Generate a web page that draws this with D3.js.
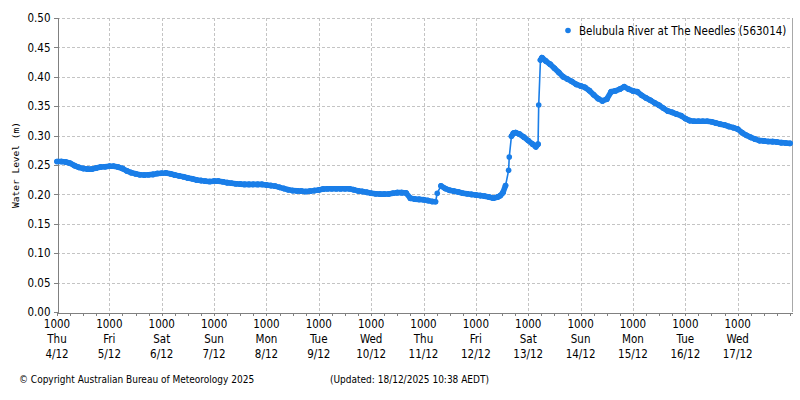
<!DOCTYPE html>
<html>
<head>
<meta charset="utf-8">
<script src="https://cdn.jsdelivr.net/npm/d3@7"></script>
<style>
  html, body { margin: 0; padding: 0; background: #fff; }
  svg { display: block; }
  .lbl { font-family: "DejaVu Sans Condensed", "DejaVu Sans", sans-serif; font-stretch: condensed; font-size: 11.5px; fill: #000; }
  .foot { font-family: "DejaVu Sans Condensed", "DejaVu Sans", sans-serif; font-stretch: condensed; font-size: 10px; fill: #000; }
  .ytitle { font-family: "DejaVu Sans Mono", monospace; font-size: 9.5px; fill: #000; }
</style>
</head>
<body>
<svg id="chart" width="800" height="400"></svg>
<script>
// ---- data ----
const seriesName = "Belubula River at The Needles (563014)";
const yTitle = "Water Level (m)";
const tickTime = "1000";
const dayNames = ["Thu","Fri","Sat","Sun","Mon","Tue","Wed","Thu","Fri","Sat","Sun","Mon","Tue","Wed"];
const dayDates = ["4/12","5/12","6/12","7/12","8/12","9/12","10/12","11/12","12/12","13/12","14/12","15/12","16/12","17/12"];
const yTicks = [0.00,0.05,0.10,0.15,0.20,0.25,0.30,0.35,0.40,0.45,0.50];
const footLeft = "\u00A9 Copyright Australian Bureau of Meteorology 2025";
const footRight = "(Updated: 18/12/2025 10:38 AEDT)";
const hoursShown = 336.9; // 4/12 10:00 -> 18/12 ~10:53
// readings: [hours since 4/12 10:00, water level m]
const readings = [
 [0,0.256],[2,0.256],[4,0.255],[6,0.253],[8,0.249],[10,0.246],[12,0.244],[14,0.243],[16,0.243],[18,0.245],[20,0.2465],[22,0.247],
 [24,0.248],[26,0.248],[28,0.2465],[30,0.244],[32,0.240],[34,0.237],[36,0.235],[38,0.2335],[40,0.233],[42,0.2335],[44,0.234],[46,0.2355],
 [48,0.236],[50,0.2365],[52,0.235],[54,0.233],[56,0.2315],[58,0.230],[60,0.228],[62,0.2265],[64,0.2245],[66,0.2235],[68,0.2225],[70,0.222],
 [72,0.2225],[74,0.2225],[76,0.2215],[78,0.220],[80,0.219],[82,0.218],[84,0.2175],[86,0.217],[88,0.217],[90,0.217],[92,0.217],[94,0.217],
 [96,0.216],[98,0.215],[100,0.214],[102,0.212],[104,0.210],[106,0.208],[108,0.2065],[110,0.206],[112,0.2055],[114,0.205],[116,0.2055],[118,0.2065],
 [120,0.2075],[122,0.209],[124,0.2095],[126,0.2097],[128,0.2097],[130,0.2097],[132,0.2097],[134,0.2095],[136,0.208],[138,0.206],[140,0.205],[142,0.2035],
 [144,0.202],[146,0.201],[148,0.2005],[150,0.2005],[152,0.2007],[154,0.202],[156,0.203],[158,0.203],[160,0.2025],[162,0.1935],[164,0.192],[166,0.1915],
 [168,0.191],[170,0.1895],[172,0.188],[173.5,0.1875],[174.3,0.202],[176,0.2145],[178,0.210],[180,0.207],[182,0.2055],[184,0.204],[186,0.202],[188,0.201],[190,0.200],
 [192,0.199],[194,0.198],[196,0.197],[198,0.1955],[200,0.1935],[202,0.1955],[203.2,0.198],[204.4,0.203],[205.6,0.215],[207,0.241],[207.3,0.2636],
 [208.3,0.299],[209.2,0.304],[210.2,0.305],[212,0.3025],[214,0.2975],
 [216,0.2915],[218,0.2855],[219.5,0.281],[220.5,0.2855],[220.8,0.352],[221.6,0.4286],[222.3,0.4325],[224,0.427],[226,0.4215],[228,0.4145],[230,0.4075],
 [232,0.400],[234,0.396],[236,0.392],[238,0.3872],
 [240,0.3845],[242,0.382],[244,0.3765],[246,0.3695],[248,0.363],[250,0.359],[252,0.362],[254,0.3745],[256,0.3762],[258,0.379],[260,0.383],[262,0.379],
 [264,0.376],[266,0.3745],[268,0.3685],[270,0.364],[272,0.360],[274,0.3555],[276,0.3515],[278,0.3465],[280,0.3418],[282,0.3395],[284,0.3365],[286,0.334],
 [288,0.329],[290,0.3255],[292,0.3245],[294,0.3243],[296,0.3243],[298,0.3243],[300,0.3235],[302,0.3215],[304,0.3195],[306,0.318],[308,0.3155],[310,0.3135],
 [312,0.311],[314,0.305],[316,0.3005],[318,0.297],[320,0.294],[322,0.2915],[324,0.291],[326,0.290],[328,0.2897],[330,0.289],[332,0.288],[334,0.2875],[336,0.2868]
];

// ---- layout ----
const L = 57, R = 792, T = 18, B = 312;
const blue = "#1a7ee8";
const svg = d3.select("#chart");
const x = d3.scaleLinear().domain([0, hoursShown]).range([L, R]);
const y = d3.scaleLinear().domain([0, 0.5]).range([B, T]);

// grid
const grid = svg.append("g").attr("stroke", "#c4c4c4").attr("stroke-dasharray", "3,2").attr("shape-rendering", "crispEdges");
grid.selectAll("line.h").data(yTicks.filter(d => d > 0)).join("line")
  .attr("x1", L).attr("x2", R).attr("y1", d => Math.round(y(d)) + 0.5).attr("y2", d => Math.round(y(d)) + 0.5);
const dayHours = d3.range(1, dayNames.length).map(i => i * 24);
grid.selectAll("line.v").data(dayHours).join("line")
  .attr("x1", d => Math.round(x(d)) + 0.5).attr("x2", d => Math.round(x(d)) + 0.5).attr("y1", T).attr("y2", B);

// right border
svg.append("line").attr("x1", R + 0.5).attr("x2", R + 0.5).attr("y1", T).attr("y2", B)
  .attr("stroke", "#a8a8a8").attr("shape-rendering", "crispEdges");

// y axis
const yAxis = d3.axisLeft(y).tickValues(yTicks).tickFormat(d3.format(".2f")).tickSize(4).tickPadding(3);
const gy = svg.append("g").attr("transform", `translate(${L + 0.5},0)`).call(yAxis);
gy.select(".domain").attr("stroke", "#808080").attr("shape-rendering", "crispEdges");
gy.selectAll(".tick line").attr("stroke", "#808080").attr("shape-rendering", "crispEdges");
gy.selectAll(".tick text").attr("class", "lbl").attr("font-family", null).attr("font-size", null).attr("fill", "#000");

// x axis (ticks every 6 h)
const tickHours = d3.range(0, hoursShown, 6);
const xAxis = d3.axisBottom(x).tickValues(tickHours).tickFormat("").tickSize(3).tickSizeOuter(0);
const gx = svg.append("g").attr("transform", `translate(0,${B + 0.5})`).call(xAxis);
gx.select(".domain").attr("stroke", "#808080").attr("shape-rendering", "crispEdges");
gx.selectAll(".tick line").attr("stroke", "#808080").attr("shape-rendering", "crispEdges");

const xl = svg.append("g");
dayNames.forEach((dn, i) => {
  const t = xl.append("text").attr("class", "lbl").attr("text-anchor", "middle")
    .attr("x", x(i * 24)).attr("y", 328);
  t.append("tspan").attr("x", x(i * 24)).attr("y", 328).text(tickTime);
  t.append("tspan").attr("x", x(i * 24)).attr("y", 343).text(dn);
  t.append("tspan").attr("x", x(i * 24)).attr("y", 358).text(dayDates[i]);
});

// y title
svg.append("text").attr("class", "ytitle").attr("text-anchor", "middle")
  .attr("transform", `translate(19,${(T + B) / 2}) rotate(-90)`).text(yTitle);

// series: segments between readings; dense runs of markers merge into a thick band,
// widely spaced readings (fast rises) show the thin connecting line and separate markers
const segs = d3.pairs(readings).map(([a, b]) => {
  const dx = x(b[0]) - x(a[0]), dy = y(b[1]) - y(a[1]);
  return { a, b, dense: Math.hypot(dx, dy) < 8 || (b[0] - a[0] >= 2 && Math.abs(dy) < 9) };
});
const sg = svg.append("g").attr("stroke", blue).attr("stroke-linecap", "round");
sg.selectAll("line").data(segs).join("line")
  .attr("x1", d => x(d.a[0])).attr("y1", d => y(d.a[1]))
  .attr("x2", d => x(d.b[0])).attr("y2", d => y(d.b[1]))
  .attr("stroke-width", d => d.dense ? 5.6 : 1.6);
svg.append("g").selectAll("circle").data(readings).join("circle")
  .attr("cx", d => x(d[0])).attr("cy", d => y(d[1])).attr("r", 2.8).attr("fill", blue);

// legend
svg.append("circle").attr("cx", 568).attr("cy", 30.5).attr("r", 2.8).attr("fill", blue);
svg.append("text").attr("class", "lbl").attr("x", 579).attr("y", 34.5).text(seriesName);

// footer
svg.append("text").attr("class", "foot").attr("x", 19).attr("y", 383).text(footLeft);
svg.append("text").attr("class", "foot").attr("x", 330).attr("y", 383).text(footRight);
</script>
</body>
</html>
